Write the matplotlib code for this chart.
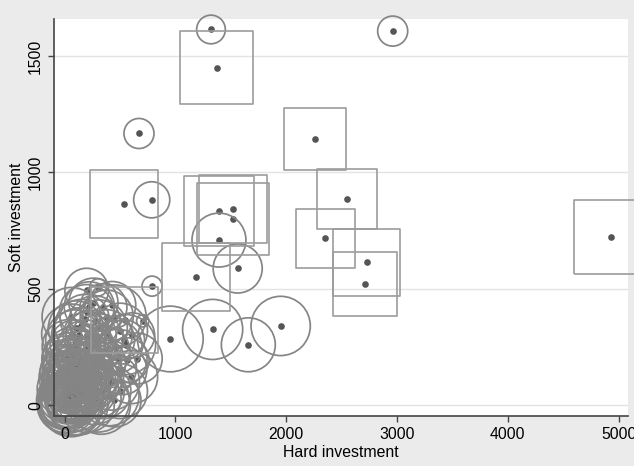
import matplotlib
matplotlib.use('Agg')
from matplotlib import pyplot as plt
import numpy as np

plt.rcParams['font.family'] = ['Liberation Sans', 'DejaVu Sans']

# firms drawn with a hollow square (hard, soft, weight)
sq_hard = [1373, 536, 1393, 1520, 1520, 1186, 2260, 2552, 2353, 2726, 2708, 4929, 541]
sq_soft = [1450, 866, 834, 844, 799, 549, 1143, 887, 716, 613, 520, 721, 365]
sq_w = [53, 46, 49, 46, 52, 46, 38, 36, 34, 45, 41, 55, 44]

# firms drawn with a hollow circle, away from the origin
ci_hard = [1321, 671, 786, 1393, 1562, 2961, 954, 1336, 1658, 1950, 789,
           199, 304, 223, 64, 705]
ci_soft = [1614, 1167, 882, 709, 587, 1607, 284, 325, 259, 340, 511,
           494, 506, 422, 305, 362]
ci_w = [8.2, 9, 13, 29, 24, 9, 43, 36, 29, 35, 4,
        19, 3, 25, 36, 1.5]

# small firms, crowded near the origin (also hollow circles)
cl_hard = [0, 10, 20, 5, 40, 60, 30, 80, 100, 15, 50, 120, 0, 70, 150, 90, 200,
           25, 130, 180, 10, 35, 55, 0, 110, 160, 220, 75, 250, 140, 300, 280,
           45, 190, 330, 360, 100, 240, 400, 420, 310, 150, 480, 500, 380, 60,
           200, 560, 540, 260, 400, 500, 300, 600, 550, 450, 20, 0, 90, 130, 40,
           0, 5, 12, 0, 25, 30, 8, 45, 18, 0, 65, 35, 85, 50, 15, 95, 105, 0,
           60, 130, 25, 140, 80, 170, 110, 40, 190, 160, 210, 230, 70, 120, 170,
           260, 5, 270, 300, 320, 230, 90, 350, 200, 290, 420, 380, 130, 460,
           350, 270, 180, 610, 650, 430, 100, 520, 330, 200, 450, 120, 60]
cl_soft = [0, 5, 30, 60, 15, 40, 80, 10, 60, 110, 120, 30, 150, 90, 80, 150, 40,
           200, 130, 120, 20, 45, 5, 90, 100, 20, 90, 180, 150, 200, 60, 200,
           250, 240, 120, 230, 280, 300, 160, 280, 330, 340, 200, 320, 380, 380,
           400, 193, 280, 440, 40, 60, 20, 120, 260, 380, 0, 40, 20, 60, 110,
           10, 0, 25, 35, 0, 20, 45, 30, 8, 70, 15, 60, 35, 85, 95, 5, 75, 120,
           110, 50, 140, 100, 130, 60, 170, 175, 150, 170, 110, 60, 220, 230, 200,
           120, 200, 30, 100, 180, 250, 260, 60, 300, 280, 100, 300, 300, 250,
           420, 360, 370, 300, 200, 430, 330, 150, 0, 0, 20, 0, 0]
cl_w = [30, 25, 20, 16, 12, 22, 28, 18, 14, 24, 30, 26, 20, 10, 32, 18, 22,
        26, 28, 20, 34, 9, 40, 14, 36, 12, 30, 22, 35, 18, 28, 24,
        30, 34, 20, 26, 36, 25, 30, 22, 32, 28, 34, 30, 28, 34,
        30, 20, 16, 24, 36, 30, 40, 28, 36, 40, 14, 8, 6, 10, 18,
        28, 22, 30, 26, 32, 18, 20, 24, 16, 30, 28, 20, 26, 24, 22, 30, 20, 26,
        28, 22, 30, 18, 26, 24, 22, 26, 28, 20, 24, 26, 28, 22, 30,
        24, 20, 28, 22, 26, 20, 24, 30, 22, 28, 32, 26, 30, 28,
        22, 26, 24, 20, 26, 22, 30, 24, 34, 30, 28, 36, 40]

x_ticks = [0, 1000, 2000, 3000, 4000, 5000]
y_ticks = [0, 500, 1000, 1500]

k = 52  # marker area per unit of weight (pt^2)

fig = plt.figure(figsize=(6.34, 4.66), dpi=100, facecolor='#ebebeb')
ax = fig.add_axes([54/634, 1 - 416/466, (628 - 54)/634, (416 - 19)/466])
ax.set_facecolor('white')

# grid lines drawn by hand so the axis (and its labels) can sit above the markers
for y in y_ticks:
    ax.axhline(y, color='#e3e3e3', linewidth=1, zorder=1)

c_hard = ci_hard + cl_hard
c_soft = ci_soft + cl_soft
c_w = np.array(ci_w + cl_w)

ax.scatter(sq_hard + c_hard, sq_soft + c_soft, s=23, color='#555555',
           linewidths=0, zorder=3, clip_on=False)
ax.scatter(c_hard, c_soft, s=c_w * k, marker='o', facecolors='none',
           edgecolors='#858585', linewidths=1.25, zorder=4, clip_on=False)
ax.scatter(sq_hard, sq_soft, s=np.array(sq_w) * k, marker='s', facecolors='none',
           edgecolors='#9c9c9c', linewidths=1.2, zorder=4, clip_on=False)

ax.set_xlim(-96, 5085)
ax.set_ylim(-47, 1659)
ax.set_xticks(x_ticks)
ax.set_yticks(y_ticks)
ax.xaxis.set_zorder(6)
ax.yaxis.set_zorder(6)
for s in ['top', 'right']:
    ax.spines[s].set_visible(False)
for s in ['left', 'bottom']:
    ax.spines[s].set_color('#444444')
    ax.spines[s].set_linewidth(1.2)
    ax.spines[s].set_zorder(5)
ax.tick_params(direction='out', length=4, width=1, color='#444444', labelsize=11.3, pad=4)
plt.setp(ax.get_yticklabels(), rotation=90, va='center')
ax.set_xlabel('Hard investment', fontsize=11.4, labelpad=2)
ax.set_ylabel('Soft investment', fontsize=11.4, labelpad=3)

fig.savefig('out.png', dpi=100, facecolor=fig.get_facecolor())
